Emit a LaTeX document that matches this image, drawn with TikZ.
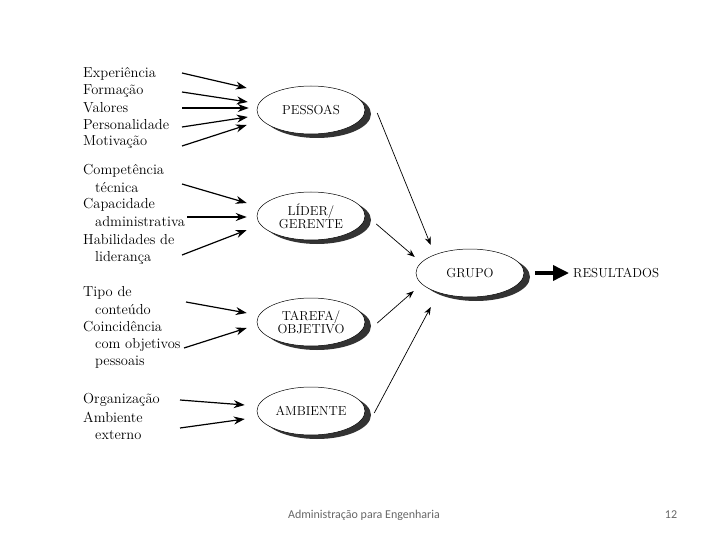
\documentclass[tikz,border=0pt]{standalone}
\usepackage{fontspec}
\newfontfamily\footfont{Carlito}
\usetikzlibrary{shapes.geometric, shadows, arrows.meta}

\begin{document}
\begin{tikzpicture}[x=1pt, y=-1pt,
  main/.style={draw, ellipse, minimum width=108pt, minimum height=48pt, line width=0.5pt, fill=white, font=\fontsize{13}{13}\selectfont, align=center, inner sep=1pt, drop shadow={shadow xshift=6pt, shadow yshift=-4pt, fill=black!80, opacity=1}},
  info/.style={anchor=west, inner sep=0pt, font=\fontsize{14.5}{15}\selectfont},
  n/.style={-{Stealth[length=11pt, width=8pt]}, line width=1.2pt},
  g/.style={-{Stealth[length=8pt, width=6pt]}, line width=0.7pt},
  r/.style={-{Triangle[length=16pt, width=15pt]}, line width=3.5pt}]
    \useasboundingbox (0,0) rectangle (720,540);
    % nodes
    \node[main] (pes) at (311,110) {PESSOAS};
    \node[main] (lid) at (311,216) {L\'IDER/\\GERENTE};
    \node[main] (tar) at (311,322) {TAREFA/\\OBJETIVO};
    \node[main] (amb) at (311,411) {AMBIENTE};
    \node[main] (gru) at (470,273) {GRUPO};
    \node[anchor=west, inner sep=0pt, font=\fontsize{13}{13}\selectfont] (res) at (573,273) {RESULTADOS};
    % texts
    \node[info] (exp) at (83,74) {Experiência};
    \node[info] (for) at (83,91) {Formação};
    \node[info] (val) at (83,108) {Valores};
    \node[info] (per) at (83,125) {Personalidade};
    \node[info] (mot) at (83,142) {Motivação};
    \node[info] (com) at (83,171) {Competência};
    \node[info] (tec) at (95,188) {técnica};
    \node[info] (cap) at (83,205) {Capacidade};
    \node[info] (adm) at (95,222) {administrativa};
    \node[info] (hab) at (83,240) {Habilidades de};
    \node[info] (lde) at (95,258) {liderança};
    \node[info] (tip) at (83,293) {Tipo de};
    \node[info] (con) at (95,310) {conteúdo};
    \node[info] (coi) at (83,327) {Coincidência};
    \node[info] (obj) at (95,345) {com objetivos};
    \node[info] (pss) at (95,362) {pessoais};
    \node[info] (org) at (83,400) {Organização};
    \node[info] (ame) at (83,417) {Ambiente};
    \node[info] (ext) at (95,435) {externo};
    % footer
    \node[font=\footfont\fontsize{12}{13}\selectfont, text=black!60] (tit) at (364,515) {Administração para Engenharia};
    \node[font=\footfont\fontsize{12}{13}\selectfont, text=black!60] (pag) at (671,515) {12};
    % start points
    \coordinate (s1) at (182,73);
    \coordinate (s2) at (182,92);
    \coordinate (s3) at (182,108);
    \coordinate (s4) at (182,127);
    \coordinate (s5) at (182,146);
    \coordinate (s6) at (182,184);
    \coordinate (s7) at (187,217);
    \coordinate (s8) at (182,255);
    \coordinate (s9) at (186,302);
    \coordinate (s10) at (184,348);
    \coordinate (s11) at (180,400);
    \coordinate (s12) at (180,428);
    % edges
    \draw[n] (s1) -- ([shift={(-10,-22)}]pes.west);
    \draw[n] (s2) -- ([shift={(-9,-8)}]pes.west);
    \draw[n] (s3) -- ([shift={(-8,-2)}]pes.west);
    \draw[n] (s4) -- ([shift={(-9,7)}]pes.west);
    \draw[n] (s5) -- ([shift={(-10,15)}]pes.west);
    \draw[n] (s6) -- ([shift={(-10,-13)}]lid.west);
    \draw[n] (s7) -- ([shift={(-10,1)}]lid.west);
    \draw[n] (s8) -- ([shift={(-10,14)}]lid.west);
    \draw[n] (s9) -- ([shift={(-10,-9)}]tar.west);
    \draw[n] (s10) -- ([shift={(-10,6)}]tar.west);
    \draw[n] (s11) -- ([shift={(-12,-6)}]amb.west);
    \draw[n] (s12) -- ([shift={(-12,8)}]amb.west);
    \draw[g] ([shift={(12,3)}]pes.east) -- ([shift={(15,-28)}]gru.west);
    \draw[g] ([shift={(11,8)}]lid.east) -- ([shift={(-1,-16)}]gru.west);
    \draw[g] ([shift={(12,1)}]tar.east) -- ([shift={(-2,18)}]gru.west);
    \draw[g] ([shift={(9,2)}]amb.east) -- ([shift={(15,34)}]gru.west);
    \draw[r] ([xshift=11pt]gru.east) -- ([xshift=-4pt]res.west);
\end{tikzpicture}
\end{document}
